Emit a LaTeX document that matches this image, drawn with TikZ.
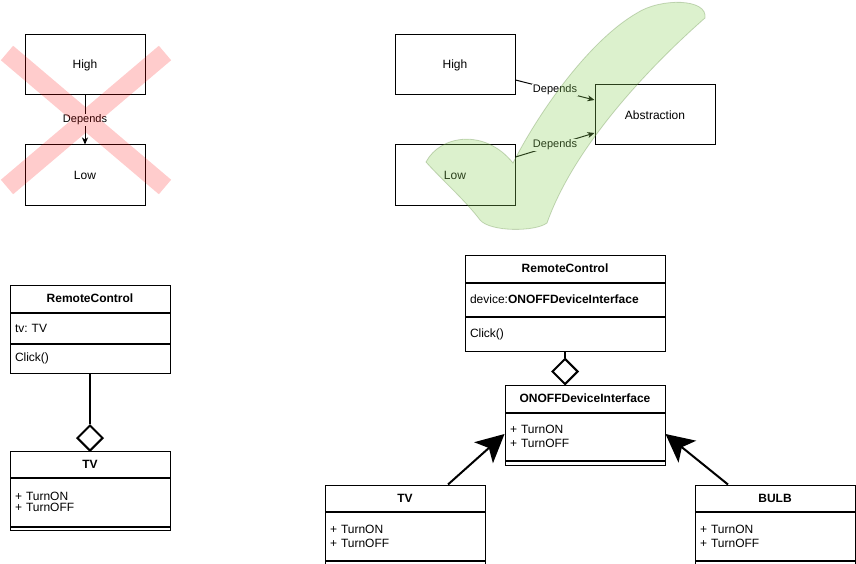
\documentclass[tikz,border=0pt]{standalone}
\usepackage{fontspec}
\setmainfont{Liberation Sans}
\usetikzlibrary{positioning,shapes.geometric,arrows.meta}
\definecolor{crossred}{RGB}{255,0,0}
\definecolor{checkgreen}{RGB}{140,210,90}
\frenchspacing

\tikzset{
  box/.style={draw, fill=white, minimum width=120pt, minimum height=60pt, font=\fontsize{12}{14}\selectfont},
  lbl/.style={fill=white, inner sep=1pt, font=\fontsize{11}{13}\selectfont},
  dep/.style={-{Stealth[length=7pt,width=6pt,inset=2pt]}},
  head/.style={draw, fill=white, inner sep=0pt, font=\bfseries\fontsize{12}{14}\selectfont},
  sect/.style={draw, fill=white, inner xsep=5pt, inner ysep=0pt, align=left, font=\fontsize{12}{14}\selectfont},
  agg/.style={draw, fill=white, diamond, aspect=1, inner sep=0pt, minimum width=26pt, minimum height=26pt, line width=2pt},
  gen/.style={line width=2pt, -{Stealth[length=28pt,width=28pt,inset=7pt]}}
}

\begin{document}
\begin{tikzpicture}[x=1pt, y=-1pt, line width=1pt]
\useasboundingbox (0,0) rectangle (856,564);
% high depends on low
\node[box] (high) at (85,65) {High};
\node[box] (low) at (85,175) {Low};
\draw[dep] (high) -- node[lbl] {Depends} (low);
\draw[crossred, draw opacity=0.2, line width=19pt] (7,53) -- (165,187) (165,53) -- (7,187);

% both depend on abstraction
\node[box] (high2) at (455,65) {High};
\node[box] (low2) at (455,175) {Low};
\node[box] (abs) at (655,115) {Abstraction};
\draw[dep] ([yshift=-15pt]high2.east) -- node[lbl] {Depends} ([yshift=15pt]abs.west);
\draw[dep] ([yshift=18pt]low2.east) -- node[lbl] {Depends} ([yshift=-18pt]abs.west);
\filldraw[fill=checkgreen, fill opacity=0.3, draw=checkgreen!60!black, draw opacity=0.3, line width=0.8pt]
  (426,162) .. controls (440,135) and (485,128) .. (513,163)
  .. controls (540,110) and (590,40) .. (637,13)
  .. controls (660,-2) and (708,-2) .. (705,18)
  .. controls (680,40) and (580,130) .. (547,223)
  .. controls (535,232) and (490,232) .. (480,220)
  .. controls (465,200) and (440,178) .. (426,162) -- cycle;

% remote control with tv
\node[head, minimum width=160pt, minimum height=27pt] (rc) at (90,298.5) {RemoteControl};
\node[sect, text width=150pt, minimum height=30pt, below=0pt of rc] (rcattr) {tv: TV};
\node[sect, text width=150pt, minimum height=29pt, below=0pt of rcattr] (rcops) {Click()};
\node[head, minimum width=160pt, minimum height=26pt] (tv) at (90,464) {TV};
\node[sect, text width=150pt, minimum height=48pt, below=0pt of tv, font=\fontsize{12}{11}\selectfont] (tvops) {+ TurnON\\+ TurnOFF};
\node[sect, text width=150pt, minimum height=3pt, below=0pt of tvops] (tvend) {};
\node[agg] (agg) at (90,438) {};
\draw[line width=2pt] (rcops) -- (agg);

% remote control with interface
\node[head, minimum width=200pt, minimum height=27pt] (rc2) at (565,268.5) {RemoteControl};
\node[sect, text width=190pt, minimum height=33pt, below=0pt of rc2] (rc2attr) {device:\textbf{ONOFFDeviceInterface}};
\node[sect, text width=190pt, minimum height=34pt, below=0pt of rc2attr] (rc2ops) {Click()};
\node[head, minimum width=160pt, minimum height=27pt] (iface) at (585,398.5) {ONOFFDeviceInterface};
\node[sect, text width=150pt, minimum height=47pt, below=0pt of iface] (ifaceops) {+ TurnON\\+ TurnOFF};
\node[sect, text width=150pt, minimum height=4pt, below=0pt of ifaceops] (ifaceend) {};
\node[agg] (agg2) at (565,371.5) {};
\draw[line width=2pt] (rc2ops) -- (agg2);

\node[head, minimum width=160pt, minimum height=26pt] (tv2) at (405,498) {TV};
\node[sect, text width=150pt, minimum height=48pt, below=0pt of tv2] (tv2ops) {+ TurnON\\+ TurnOFF};
\node[sect, text width=150pt, minimum height=4pt, below=0pt of tv2ops] (tv2end) {};
\node[head, minimum width=160pt, minimum height=26pt] (bulb) at (775,498) {BULB};
\node[sect, text width=150pt, minimum height=48pt, below=0pt of bulb] (bulbops) {+ TurnON\\+ TurnOFF};
\node[sect, text width=150pt, minimum height=4pt, below=0pt of bulbops] (bulbend) {};
\draw[gen] ([xshift=43pt]tv2.north) -- ([yshift=2.5pt]ifaceops.west);
\draw[gen] ([xshift=-47pt]bulb.north) -- ([yshift=2.5pt]ifaceops.east);
\end{tikzpicture}
\end{document}
